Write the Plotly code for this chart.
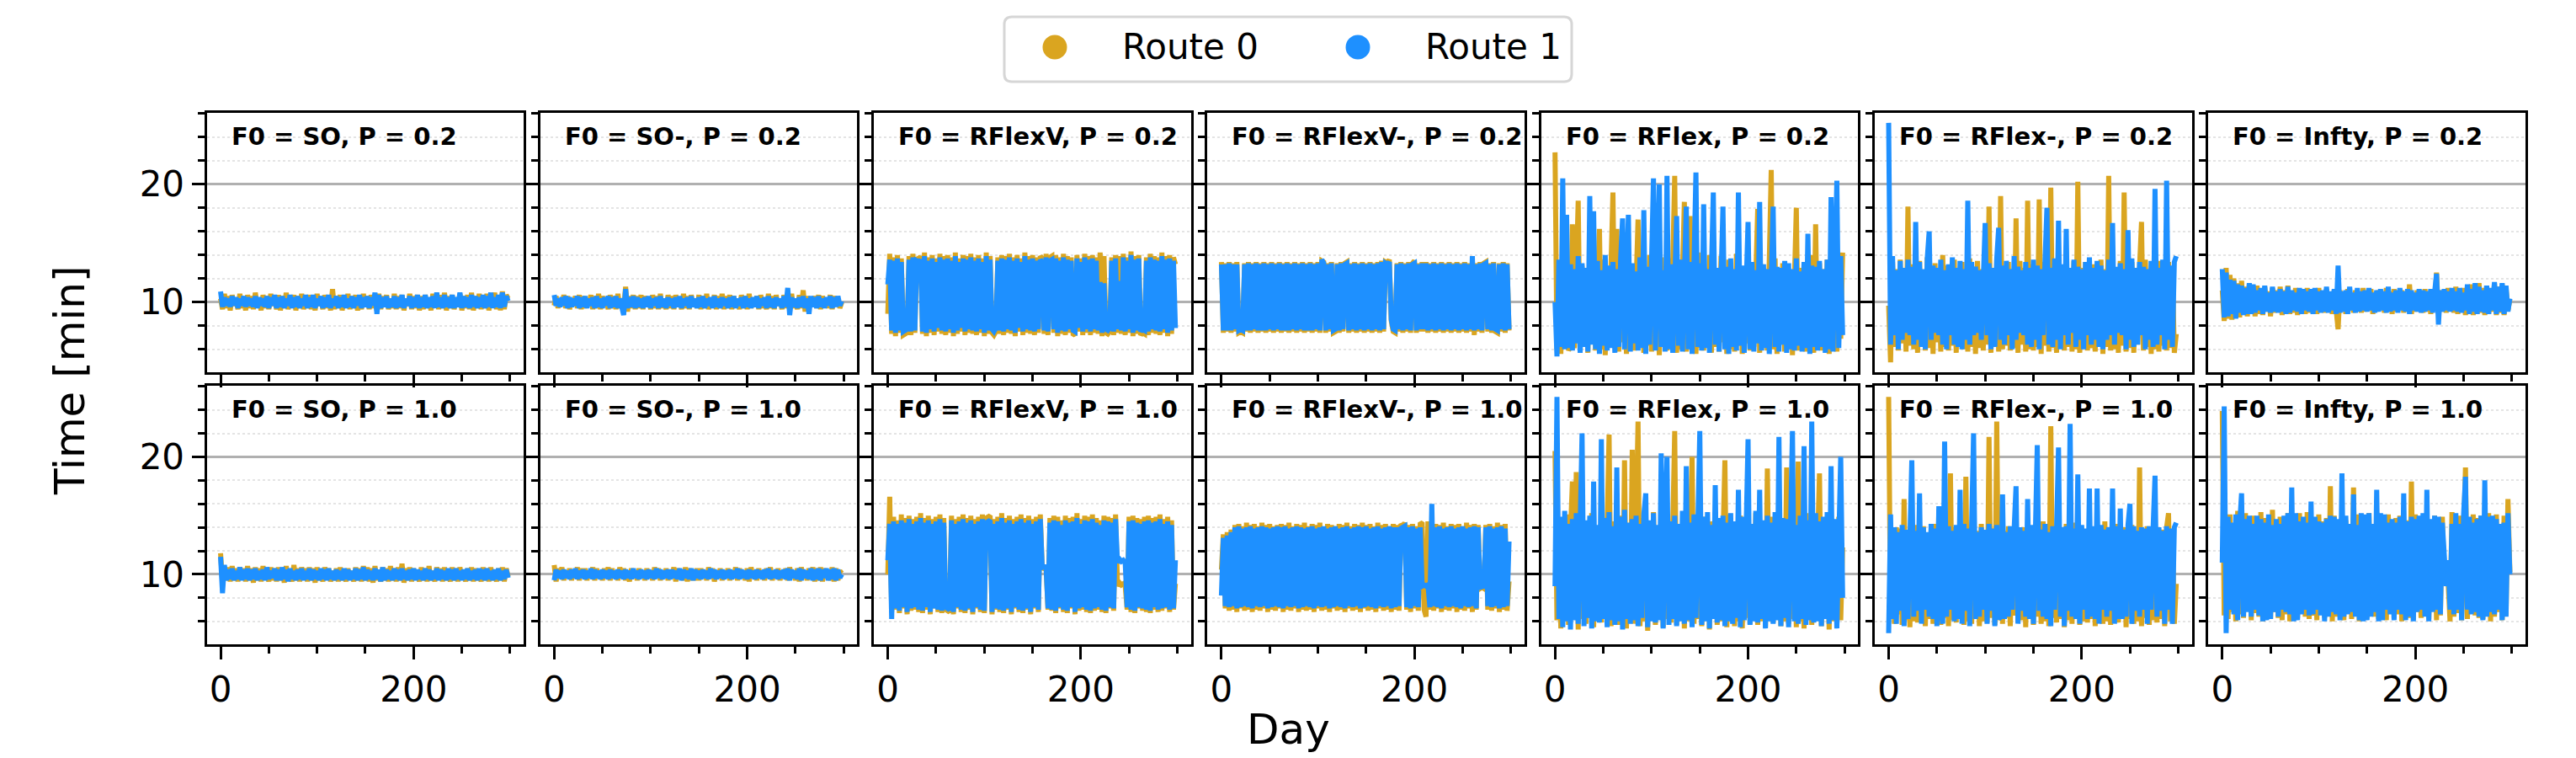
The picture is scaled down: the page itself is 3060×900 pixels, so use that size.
import plotly.graph_objects as go

# ---------------- data ----------------
DAYS = list(range(0, 300, 2))
ROUTE_NAMES = ["Route 0", "Route 1"]
ROUTE_COLORS = ["#DAA520", "#1E90FF"]
F0_LABELS = ["SO", "SO-", "RFlexV", "RFlexV-", "RFlex", "RFlex-", "Infty"]
P_LABELS = ["0.2", "1.0"]
X_TICKS = [0, 200]
Y_TICKS = [10, 20]

# ---- P = 0.2 ----
so_p02_r0 = [10.3, 9.4, 10.7, 9.5, 10.5, 9.3, 10.6, 9.7, 10.3, 9.4, 10.7, 9.5, 10.2, 9.3, 10.6,
             9.5, 10.5, 9.4, 10.8, 9.7, 10.3, 9.3, 10.6, 9.5, 10.5, 9.4, 10.7, 9.7, 10.3, 9.4,
             10.6, 9.3, 10.5, 9.5, 10.8, 9.4, 10.3, 9.7, 10.6, 9.3, 10.5, 9.5, 10.7, 9.4, 10.3,
             9.5, 10.6, 9.4, 10.5, 9.3, 10.7, 9.7, 10.3, 9.4, 10.6, 9.5, 10.5, 9.3, 11.1, 9.4,
             10.5, 9.5, 10.6, 9.3, 10.3, 9.7, 10.7, 9.4, 10.5, 9.5, 10.6, 9.3, 10.3, 9.4, 10.7,
             9.7, 10.5, 9.4, 10.6, 9.5, 10.3, 9.3, 10.7, 9.4, 10.5, 9.7, 10.6, 9.4, 10.3, 9.5,
             10.7, 9.4, 10.5, 9.5, 10.6, 9.3, 10.3, 9.7, 10.7, 9.4, 10.5, 9.5, 10.6, 9.3, 10.5,
             9.4, 10.6, 9.5, 10.3, 9.3, 10.7, 9.7, 10.5, 9.4, 10.6, 9.5, 10.8, 9.3, 10.5, 9.5,
             10.6, 9.4, 10.3, 9.7, 10.7, 9.3, 10.5, 9.5, 10.6, 9.4, 10.8, 9.3, 10.5, 9.5, 10.7,
             9.4, 10.6, 9.5, 10.7, 9.3, 10.5, 9.7, 10.8, 9.4, 10.6, 9.3, 10.9, 9.4, 10.6, 10.3]
so_p02_r1 = [10.9, 9.6, 10.4, 9.7, 10.3, 9.6, 10.5, 9.7, 10.4, 9.5, 10.3, 9.7, 10.5, 9.6, 10.4,
             9.7, 10.3, 9.6, 10.5, 9.5, 10.4, 9.7, 10.3, 9.6, 10.5, 9.5, 10.4, 9.7, 10.6, 9.5,
             10.4, 9.6, 10.5, 9.5, 10.3, 9.7, 10.6, 9.5, 10.4, 9.6, 10.5, 9.5, 10.3, 9.7, 10.6,
             9.5, 10.4, 9.6, 10.6, 9.5, 10.3, 9.7, 10.5, 9.5, 10.4, 9.6, 10.6, 9.5, 10.3, 9.7,
             10.5, 9.5, 10.4, 9.6, 10.6, 9.5, 10.3, 9.6, 10.5, 9.5, 10.4, 9.7, 10.6, 9.5, 10.4,
             9.6, 10.5, 9.5, 10.4, 9.7, 10.8, 9.0, 10.6, 9.5, 10.4, 9.6, 10.5, 9.5, 10.3, 9.6,
             10.5, 9.5, 10.4, 9.6, 10.6, 9.5, 10.3, 9.7, 10.5, 9.5, 10.4, 9.6, 10.6, 9.5, 10.4,
             9.6, 10.6, 9.5, 10.4, 9.6, 10.5, 9.5, 10.8, 9.6, 10.4, 9.5, 10.6, 9.6, 10.4, 9.5,
             10.6, 9.5, 10.4, 9.6, 10.8, 9.5, 10.5, 9.6, 10.4, 9.5, 10.6, 9.6, 10.5, 9.5, 10.4,
             9.6, 10.6, 9.5, 10.5, 9.6, 10.8, 9.5, 10.4, 9.6, 10.6, 9.5, 10.8, 9.6, 10.5, 10.1]
som_p02_r0 = [9.7, 10.5, 9.5, 10.3, 9.7, 10.6, 9.5, 10.5, 9.4, 10.3, 9.7, 10.5, 9.5, 10.6, 9.4,
              10.5, 9.5, 10.3, 9.7, 10.6, 9.4, 10.5, 9.5, 10.7, 9.4, 10.5, 9.7, 10.3, 9.4, 10.6,
              9.5, 10.5, 9.4, 10.7, 9.5, 10.3, 9.4, 11.3, 9.2, 10.5, 9.5, 10.6, 9.4, 10.5, 9.5,
              10.6, 9.4, 10.5, 9.7, 10.3, 9.4, 10.6, 9.5, 10.5, 9.4, 10.7, 9.5, 10.3, 9.4, 10.6,
              9.5, 10.5, 9.4, 10.6, 9.7, 10.3, 9.4, 10.7, 9.5, 10.5, 9.4, 10.6, 9.7, 10.3, 9.5,
              10.6, 9.4, 10.5, 9.5, 10.7, 9.4, 10.3, 9.7, 10.6, 9.4, 10.5, 9.5, 10.7, 9.4, 10.5,
              9.5, 10.6, 9.4, 10.5, 9.7, 10.3, 9.4, 10.6, 9.5, 10.5, 9.4, 10.7, 9.5, 10.3, 9.7,
              10.5, 9.4, 10.6, 9.5, 10.3, 9.4, 10.7, 9.5, 10.5, 9.4, 10.6, 9.7, 10.3, 9.4, 10.6,
              9.5, 10.5, 9.4, 10.7, 9.5, 10.3, 9.4, 10.6, 9.5, 11.0, 9.2, 10.5, 9.5, 10.3, 9.7,
              10.5, 9.5, 10.6, 9.4, 10.5, 9.7, 10.3, 9.5, 10.6, 9.4, 10.5, 9.7, 10.3, 9.5, 10.0]
som_p02_r1 = [10.6, 9.7, 10.3, 9.6, 10.4, 9.7, 10.5, 9.5, 10.4, 9.6, 10.3, 9.7, 10.5, 9.5, 10.4,
              9.6, 10.5, 9.5, 10.3, 9.7, 10.4, 9.5, 10.5, 9.6, 10.3, 9.5, 10.4, 9.7, 10.5, 9.5,
              10.4, 9.6, 10.5, 9.5, 10.3, 9.6, 8.9, 11.1, 9.5, 10.4, 9.6, 10.5, 9.5, 10.4, 9.6,
              10.3, 9.5, 10.4, 9.6, 10.5, 9.5, 10.3, 9.7, 10.4, 9.5, 10.5, 9.6, 10.3, 9.5, 10.4,
              9.7, 10.3, 9.5, 10.4, 9.6, 10.5, 9.5, 10.3, 9.7, 10.4, 9.5, 10.5, 9.6, 10.3, 9.5,
              10.4, 9.6, 10.5, 9.5, 10.3, 9.7, 10.4, 9.5, 10.5, 9.6, 10.3, 9.5, 10.4, 9.7, 10.3,
              9.5, 10.4, 9.6, 10.5, 9.5, 10.3, 9.7, 10.4, 9.5, 10.5, 9.6, 10.3, 9.5, 10.4, 9.6,
              10.5, 9.5, 10.3, 9.7, 10.4, 9.5, 10.5, 9.6, 10.3, 9.5, 10.4, 9.7, 10.3, 9.5, 10.5,
              9.6, 11.2, 8.9, 10.4, 9.6, 10.3, 9.5, 10.4, 9.6, 10.5, 9.5, 10.3, 9.0, 10.5, 9.6,
              10.4, 9.5, 10.5, 9.6, 10.3, 9.5, 10.4, 9.7, 10.5, 9.5, 10.4, 9.6, 10.5, 9.7, 10.1]
rflexv_p02_r0 = [9.0, 14.1, 7.3, 13.8, 7.1, 14.0, 7.4, 13.7, 7.2, 7.3, 7.4, 13.9, 7.2, 14.1, 7.4,
                 13.8, 13.6, 13.9, 7.3, 14.2, 7.1, 13.8, 7.4, 14.0, 7.2, 13.7, 7.5, 14.1, 7.3, 13.9,
                 7.2, 14.0, 7.4, 13.8, 7.1, 14.2, 7.3, 13.7, 7.5, 14.0, 7.2, 13.9, 7.4, 14.1, 7.3,
                 13.8, 7.2, 14.0, 7.4, 13.7, 7.1, 14.2, 7.3, 13.9, 7.4, 7.2, 7.5, 13.8, 7.3, 14.0,
                 7.2, 13.9, 7.4, 14.1, 7.3, 13.8, 7.1, 14.0, 7.5, 13.7, 7.2, 14.2, 7.4, 13.9, 7.3,
                 14.0, 7.2, 13.8, 7.4, 13.9, 13.7, 7.3, 14.1, 7.2, 13.8, 13.9, 7.4, 14.0, 7.1, 13.8,
                 7.3, 14.1, 7.2, 13.9, 7.4, 13.8, 7.3, 7.2, 14.0, 7.5, 13.7, 7.2, 14.1, 7.4, 13.9,
                 7.2, 14.0, 7.4, 13.8, 7.3, 14.2, 7.1, 13.9, 7.4, 7.3, 7.5, 13.8, 7.2, 14.0, 7.4,
                 13.9, 7.3, 14.1, 7.2, 13.8, 7.4, 14.3, 7.1, 13.9, 7.3, 14.0, 7.2, 7.4, 7.3, 13.8,
                 7.2, 14.1, 7.4, 13.9, 7.3, 13.8, 7.2, 14.2, 7.4, 13.9, 7.1, 14.0, 7.3, 13.8, 13.2]
rflexv_p02_r1 = [11.5, 13.6, 7.6, 13.5, 7.4, 13.7, 7.6, 13.4, 7.5, 7.6, 7.7, 13.6, 7.5, 13.8, 7.6,
                 13.5, 13.4, 13.6, 7.5, 13.9, 7.4, 13.5, 7.7, 13.7, 7.5, 13.4, 7.8, 13.8, 7.6, 13.6,
                 7.5, 13.7, 7.7, 13.5, 7.4, 13.9, 7.6, 13.4, 7.8, 13.7, 7.5, 13.6, 7.7, 13.8, 7.6,
                 13.5, 7.5, 13.7, 7.7, 13.4, 7.4, 13.9, 7.6, 13.6, 7.7, 7.5, 7.8, 13.5, 7.6, 13.7,
                 7.5, 13.6, 7.7, 13.8, 7.6, 13.5, 7.4, 13.7, 7.8, 13.4, 7.5, 13.9, 7.7, 13.6, 7.6,
                 13.7, 7.5, 13.5, 7.7, 13.6, 13.4, 7.6, 13.8, 7.5, 13.5, 13.6, 7.7, 13.7, 7.4, 13.5,
                 7.6, 13.8, 7.5, 13.6, 7.7, 13.5, 7.6, 7.5, 13.7, 7.8, 13.4, 7.5, 13.8, 7.7, 13.6,
                 7.5, 13.7, 7.7, 13.5, 7.6, 11.7, 7.4, 11.6, 7.7, 7.6, 7.8, 13.5, 7.5, 13.7, 7.7,
                 11.8, 7.6, 13.8, 7.5, 13.5, 7.7, 14.0, 7.4, 13.6, 7.6, 13.7, 7.5, 7.7, 7.6, 13.5,
                 7.5, 13.8, 7.7, 13.6, 7.6, 13.5, 7.5, 13.9, 7.7, 13.6, 7.4, 13.7, 7.6, 13.5, 7.8]
rflexvm_p02_r0 = [13.4, 7.4, 13.3, 7.5, 13.4, 7.4, 13.3, 7.5, 13.4, 7.4, 7.5, 7.4, 13.3, 7.5, 13.4,
                  7.4, 13.3, 7.5, 13.4, 7.4, 13.3, 7.5, 13.4, 7.4, 13.3, 7.5, 13.4, 7.4, 13.3, 7.5,
                  13.4, 7.4, 13.3, 7.5, 13.4, 7.4, 13.3, 7.5, 13.4, 7.4, 13.3, 7.5, 13.4, 7.4, 13.3,
                  7.5, 13.4, 7.4, 13.3, 7.5, 13.4, 7.4, 13.5, 13.4, 7.4, 13.3, 7.5, 13.4, 7.4, 7.5,
                  13.3, 7.4, 13.4, 7.5, 13.3, 13.4, 7.4, 13.3, 7.5, 13.4, 7.4, 13.3, 7.5, 13.4, 7.4,
                  13.3, 7.5, 13.4, 7.4, 13.3, 7.5, 13.4, 7.4, 13.5, 7.5, 13.4, 13.3, 13.6, 8.4, 7.5,
                  7.4, 13.3, 7.5, 13.4, 7.4, 13.3, 7.5, 13.4, 7.4, 13.3, 13.5, 7.4, 13.3, 7.5, 13.4,
                  7.5, 13.4, 7.4, 13.3, 7.5, 13.4, 7.4, 13.3, 7.5, 13.4, 7.4, 13.3, 7.5, 13.4, 7.4,
                  13.3, 7.5, 13.4, 7.4, 13.3, 7.5, 13.4, 7.4, 13.3, 7.5, 13.4, 7.2, 13.3, 7.5, 13.4,
                  7.4, 13.3, 13.4, 7.5, 13.3, 7.4, 13.4, 7.5, 7.4, 13.3, 7.5, 13.4, 7.4, 13.3, 7.6]
rflexvm_p02_r1 = [13.2, 7.6, 13.2, 7.6, 13.3, 7.6, 13.2, 7.7, 13.2, 7.6, 7.7, 7.6, 13.2, 7.6, 13.3,
                  7.6, 13.2, 7.7, 13.3, 7.6, 13.2, 7.6, 13.3, 7.6, 13.2, 7.7, 13.3, 7.6, 13.2, 7.7,
                  13.3, 7.6, 13.2, 7.6, 13.3, 7.6, 13.2, 7.7, 13.3, 7.6, 13.2, 7.7, 13.3, 7.6, 13.2,
                  7.6, 13.3, 7.6, 13.2, 7.7, 13.3, 7.6, 13.6, 13.3, 7.6, 13.2, 7.7, 13.3, 7.6, 7.7,
                  13.2, 7.6, 13.3, 7.7, 13.2, 13.3, 7.6, 13.2, 7.7, 13.3, 7.6, 13.2, 7.7, 13.3, 7.6,
                  13.2, 7.7, 13.3, 7.6, 13.2, 7.7, 13.3, 7.6, 13.4, 7.7, 13.3, 13.2, 13.4, 8.5, 7.7,
                  7.6, 13.2, 7.7, 13.3, 7.6, 13.2, 7.7, 13.3, 7.6, 13.2, 13.3, 7.6, 13.2, 7.7, 13.3,
                  7.7, 13.3, 7.6, 13.2, 7.7, 13.3, 7.6, 13.2, 7.7, 13.3, 7.6, 13.2, 7.7, 13.3, 7.6,
                  13.2, 7.7, 13.3, 7.6, 13.2, 7.7, 13.3, 7.6, 13.2, 7.7, 13.9, 7.6, 13.2, 7.7, 13.3,
                  7.6, 13.2, 13.3, 7.7, 13.2, 7.6, 13.3, 7.7, 7.6, 13.2, 7.7, 13.3, 7.6, 13.2, 7.7]
rflex_p02_r0 = [22.7, 6.0, 12.8, 5.6, 13.9, 6.4, 12.6, 5.9, 6.2, 16.6, 6.1, 13.4, 18.6, 5.8, 13.1,
                6.3, 12.9, 5.7, 14.0, 6.5, 13.3, 5.9, 12.4, 16.2, 6.0, 13.6, 5.5, 12.8, 6.7, 14.1,
                19.3, 6.1, 16.2, 5.8, 13.2, 6.6, 12.7, 5.6, 14.3, 6.2, 13.0, 5.9, 12.5, 17.0, 6.4,
                13.5, 5.7, 12.9, 6.3, 14.0, 5.8, 13.4, 6.0, 12.6, 5.5, 13.8, 6.4, 12.8, 5.9, 13.7,
                6.2, 13.1, 20.7, 5.7, 13.6, 6.0, 12.8, 18.5, 5.8, 13.3, 17.3, 6.5, 12.7, 5.6, 14.2,
                6.1, 13.5, 5.9, 12.9, 6.4, 14.0, 5.7, 13.2, 6.2, 12.6, 5.8, 13.9, 6.6, 12.8, 5.6,
                13.6, 6.0, 12.7, 5.8, 14.1, 6.3, 13.0, 5.6, 12.9, 6.5, 13.4, 5.9, 12.6, 6.2, 13.8,
                17.9, 5.7, 13.2, 6.1, 12.8, 5.9, 13.5, 21.2, 6.0, 13.7, 5.6, 12.9, 6.4, 13.3, 5.8,
                13.0, 6.2, 12.7, 5.5, 13.6, 18.0, 5.9, 12.9, 6.3, 13.4, 5.8, 12.6, 6.7, 14.0, 5.7,
                16.6, 6.1, 13.3, 5.9, 12.8, 6.4, 13.6, 5.6, 12.9, 6.0, 13.5, 5.8, 13.1, 6.9, 14.2]
rflex_p02_r1 = [10.0, 5.4, 13.6, 6.2, 20.5, 6.0, 17.4, 6.1, 13.2, 5.9, 12.8, 6.5, 13.9, 5.7, 13.3,
                6.2, 12.9, 5.8, 19.0, 6.4, 17.7, 6.0, 13.5, 5.6, 12.7, 6.3, 14.0, 5.9, 13.1, 6.1,
                13.4, 5.7, 12.8, 6.2, 13.7, 17.1, 6.0, 12.9, 17.4, 5.8, 13.3, 6.5, 12.6, 5.9, 13.8,
                6.1, 17.8, 5.6, 13.0, 6.4, 12.8, 20.5, 5.9, 13.5, 20.0, 6.2, 12.7, 5.8, 20.7, 6.0,
                13.2, 5.7, 12.9, 17.3, 6.3, 13.6, 5.8, 12.8, 18.1, 6.0, 13.4, 5.6, 12.7, 21.0, 6.2,
                13.3, 5.9, 18.3, 6.1, 12.8, 5.7, 13.6, 19.3, 6.4, 12.9, 5.8, 13.5, 18.1, 6.0, 13.0,
                5.6, 13.7, 6.2, 12.8, 5.9, 19.3, 6.3, 13.1, 5.7, 12.9, 16.8, 6.0, 13.4, 5.8, 12.7,
                6.5, 18.5, 5.9, 13.2, 6.1, 12.8, 5.6, 13.6, 18.1, 6.2, 13.0, 5.8, 12.9, 6.4, 13.5,
                5.7, 13.3, 6.0, 12.8, 5.9, 13.7, 6.3, 12.6, 5.8, 13.4, 6.1, 15.8, 5.6, 13.1, 6.2,
                13.0, 5.9, 13.5, 6.2, 12.8, 5.7, 13.6, 6.0, 18.9, 5.8, 13.2, 20.3, 6.1, 13.9, 7.2]
rflexm_p02_r0 = [9.7, 4.9, 13.4, 6.2, 12.8, 5.9, 13.6, 6.5, 12.7, 5.8, 18.1, 6.3, 13.2, 6.0, 12.9,
                 5.7, 13.5, 6.4, 12.6, 5.9, 13.8, 6.1, 12.9, 5.6, 13.3, 6.6, 12.7, 5.8, 14.0, 6.2,
                 13.1, 5.9, 12.8, 6.3, 13.6, 5.7, 12.9, 6.5, 13.4, 6.0, 12.6, 5.8, 13.7, 6.2, 13.0,
                 5.6, 13.5, 6.1, 12.8, 5.9, 13.3, 6.4, 18.1, 5.7, 12.9, 6.2, 13.6, 5.8, 19.0, 6.0,
                 12.7, 6.3, 13.4, 5.9, 12.8, 6.1, 17.1, 5.7, 13.5, 6.4, 12.9, 5.8, 18.6, 6.0, 13.2,
                 5.9, 12.8, 6.2, 18.7, 5.6, 13.4, 6.3, 12.9, 5.8, 19.7, 6.1, 13.1, 5.7, 13.6, 6.4,
                 12.8, 5.9, 13.3, 6.2, 12.7, 5.8, 13.5, 6.0, 20.2, 5.7, 12.9, 6.5, 13.4, 5.9, 12.6,
                 6.1, 13.2, 5.8, 12.9, 6.4, 13.6, 5.6, 12.8, 6.2, 20.7, 5.9, 13.3, 6.0, 12.7, 5.7,
                 13.5, 6.3, 19.3, 5.8, 12.9, 6.1, 13.4, 5.7, 12.8, 6.4, 13.0, 16.8, 5.9, 13.6, 6.2,
                 12.8, 5.6, 13.3, 6.0, 12.9, 5.8, 13.5, 6.3, 12.7, 5.9, 13.4, 6.1, 13.0, 5.7, 7.3]
rflexm_p02_r1 = [25.2, 6.4, 13.9, 7.2, 12.7, 6.0, 13.5, 6.8, 12.9, 7.4, 13.6, 7.2, 13.0, 6.4, 16.8,
                 6.8, 13.4, 6.2, 12.8, 6.0, 13.7, 16.0, 6.8, 13.1, 7.4, 12.9, 7.2, 13.6, 6.4, 12.7,
                 6.0, 13.2, 7.2, 13.8, 6.4, 12.9, 6.2, 13.5, 6.0, 12.8, 6.8, 18.6, 6.4, 13.4, 7.2,
                 13.0, 7.4, 12.7, 6.8, 13.6, 16.7, 7.2, 13.3, 6.0, 12.9, 6.2, 13.7, 16.3, 6.8, 13.1,
                 6.4, 13.5, 7.2, 12.8, 6.0, 13.9, 6.8, 13.0, 7.4, 12.7, 7.2, 13.4, 6.4, 12.9, 6.2,
                 13.6, 6.8, 13.1, 6.0, 12.8, 7.2, 13.5, 18.0, 6.4, 12.9, 6.2, 13.7, 6.8, 16.9, 6.0,
                 13.2, 7.2, 16.2, 6.4, 12.9, 7.4, 13.6, 6.2, 13.0, 6.8, 12.8, 6.0, 13.4, 7.2, 13.8,
                 6.4, 12.9, 6.8, 13.5, 6.2, 13.1, 6.0, 12.7, 6.8, 13.6, 7.2, 16.7, 6.4, 13.0, 7.4,
                 13.3, 7.2, 12.8, 6.0, 16.1, 6.8, 13.7, 6.2, 12.9, 6.4, 13.4, 7.2, 13.0, 6.0, 12.8,
                 6.8, 13.5, 6.2, 19.6, 6.4, 12.9, 7.2, 13.6, 6.0, 20.3, 6.8, 13.1, 6.2, 13.4, 13.9]
infty_p02_r0 = [11.0, 8.4, 12.9, 8.6, 12.3, 8.5, 12.0, 8.9, 11.6, 8.7, 11.8, 9.0, 11.3, 8.8, 11.5,
                9.1, 11.2, 8.8, 11.4, 9.0, 11.1, 8.9, 11.3, 9.2, 10.9, 8.8, 11.2, 9.1, 11.0, 9.3,
                11.3, 8.9, 11.0, 9.2, 11.4, 9.0, 10.8, 9.1, 11.2, 8.9, 11.0, 9.3, 10.9, 9.0, 11.2,
                9.1, 11.0, 9.3, 10.8, 9.0, 11.2, 9.2, 10.9, 9.1, 11.1, 9.3, 10.8, 9.0, 11.0, 9.2,
                7.7, 11.0, 9.2, 10.8, 9.0, 11.1, 9.3, 10.7, 9.1, 11.0, 9.3, 10.8, 9.1, 11.2, 9.2,
                10.9, 9.3, 11.1, 9.0, 10.8, 9.2, 11.0, 9.4, 10.7, 9.1, 11.2, 9.3, 10.9, 9.0, 11.1,
                9.2, 10.8, 9.4, 11.0, 9.1, 10.9, 9.3, 11.5, 9.0, 10.8, 9.2, 11.0, 9.4, 10.7, 9.1,
                11.1, 9.2, 10.9, 9.0, 11.0, 9.3, 12.5, 9.0, 11.0, 9.2, 10.9, 9.1, 11.2, 9.3, 10.8,
                9.1, 11.3, 9.0, 10.8, 9.3, 11.2, 8.9, 11.0, 9.2, 11.5, 8.9, 11.3, 9.0, 11.6, 9.1,
                11.2, 8.9, 11.4, 9.0, 11.1, 9.2, 11.6, 8.9, 11.3, 9.1, 11.5, 8.9, 11.2, 9.3, 10.2]
infty_p02_r1 = [12.8, 8.7, 12.5, 8.8, 11.9, 9.0, 11.8, 8.6, 11.5, 9.1, 11.4, 8.9, 11.2, 9.0, 11.6,
                9.0, 11.5, 9.1, 11.0, 9.3, 11.2, 9.0, 11.4, 9.2, 10.8, 9.1, 11.3, 9.2, 10.9, 9.1,
                11.1, 9.2, 10.9, 9.0, 11.3, 9.1, 11.0, 9.3, 10.8, 9.2, 11.2, 9.0, 11.1, 9.3, 10.9,
                9.2, 11.1, 9.0, 11.2, 9.3, 10.9, 9.1, 11.0, 9.2, 11.3, 9.1, 10.9, 9.3, 11.1, 9.0,
                13.1, 9.1, 10.9, 9.2, 11.0, 9.0, 11.3, 9.3, 10.8, 9.1, 11.2, 9.2, 10.9, 9.3, 11.0,
                9.2, 11.2, 9.3, 10.8, 9.1, 11.0, 9.2, 11.1, 9.3, 10.9, 9.1, 11.3, 9.2, 10.8, 9.3,
                11.0, 9.1, 11.2, 9.3, 10.9, 9.2, 11.1, 9.0, 11.0, 9.3, 10.8, 9.2, 11.1, 9.1, 11.0,
                9.2, 10.9, 9.3, 11.1, 9.1, 10.8, 12.4, 8.1, 11.0, 9.2, 11.1, 9.3, 10.9, 9.2, 11.2,
                9.3, 10.9, 9.2, 11.2, 9.1, 10.8, 9.3, 11.5, 9.0, 11.1, 9.2, 11.6, 9.0, 11.3, 9.2,
                11.0, 9.1, 11.4, 9.0, 11.2, 9.3, 11.7, 9.0, 11.3, 9.2, 11.6, 9.0, 11.4, 9.2, 10.3]

# ---- P = 1.0 ----
so_p10_r0 = [11.8, 9.3, 10.5, 9.5, 10.6, 9.4, 10.7, 9.5, 10.5, 9.4, 10.6, 9.7, 10.5, 9.4, 10.7,
             9.5, 10.5, 9.3, 10.6, 9.5, 10.5, 9.4, 10.7, 9.7, 10.3, 9.4, 10.6, 9.5, 10.5, 9.4,
             10.6, 9.5, 10.5, 9.3, 10.7, 9.5, 10.3, 9.4, 10.8, 9.5, 10.5, 9.4, 10.6, 9.7, 10.5,
             9.4, 10.6, 9.5, 10.5, 9.3, 10.6, 9.5, 10.3, 9.4, 10.6, 9.7, 10.5, 9.4, 10.3, 9.5,
             10.5, 9.4, 10.6, 9.5, 10.3, 9.4, 10.5, 9.7, 10.3, 9.4, 10.6, 9.5, 10.5, 9.4, 10.7,
             9.5, 10.6, 9.4, 10.5, 9.3, 10.7, 9.5, 10.3, 9.4, 10.6, 9.5, 10.5, 9.4, 10.7, 9.5,
             10.5, 9.4, 10.6, 9.5, 10.9, 9.3, 10.5, 9.5, 10.6, 9.4, 10.5, 9.7, 10.3, 9.4, 10.6,
             9.5, 10.5, 9.4, 10.7, 9.5, 10.3, 9.4, 10.6, 9.7, 10.5, 9.4, 10.6, 9.5, 10.3, 9.4,
             10.6, 9.5, 10.5, 9.4, 10.6, 9.7, 10.3, 9.4, 10.5, 9.5, 10.6, 9.4, 10.5, 9.5, 10.3,
             9.4, 10.6, 9.5, 10.5, 9.4, 10.6, 9.5, 10.3, 9.4, 10.5, 9.5, 10.6, 9.4, 10.5, 9.8]
so_p10_r1 = [11.5, 8.4, 10.8, 9.5, 10.4, 9.6, 10.5, 9.5, 10.3, 9.6, 10.6, 9.5, 10.4, 9.6, 10.5,
             9.5, 10.4, 9.6, 10.5, 9.5, 10.3, 9.6, 10.4, 9.5, 10.6, 9.6, 10.3, 9.7, 10.5, 9.5,
             10.4, 9.5, 10.6, 9.6, 10.4, 9.4, 10.5, 9.6, 10.3, 9.5, 10.4, 9.6, 10.5, 9.5, 10.3,
             9.6, 10.5, 9.5, 10.4, 9.6, 10.3, 9.5, 10.5, 9.6, 10.4, 9.5, 10.5, 9.6, 10.3, 9.5,
             10.4, 9.6, 10.3, 9.5, 10.5, 9.6, 10.4, 9.5, 10.3, 9.6, 10.5, 9.5, 10.4, 9.6, 10.6,
             9.5, 10.4, 9.6, 10.3, 9.5, 10.5, 9.6, 10.4, 9.4, 10.6, 9.5, 10.4, 9.6, 10.3, 9.5,
             10.5, 9.6, 10.4, 9.5, 10.5, 9.6, 10.3, 9.5, 10.4, 9.6, 10.5, 9.5, 10.4, 9.6, 10.3,
             9.5, 10.5, 9.6, 10.4, 9.5, 10.3, 9.6, 10.5, 9.5, 10.4, 9.6, 10.3, 9.5, 10.5, 9.6,
             10.4, 9.5, 10.5, 9.6, 10.3, 9.5, 10.4, 9.6, 10.5, 9.5, 10.3, 9.6, 10.4, 9.5, 10.5,
             9.6, 10.4, 9.5, 10.5, 9.6, 10.3, 9.5, 10.4, 9.6, 10.5, 9.5, 10.3, 9.6, 10.4, 9.7]
som_p10_r0 = [10.8, 9.4, 10.5, 9.7, 10.6, 9.5, 10.3, 9.7, 10.5, 9.5, 10.3, 9.7, 10.6, 9.5, 10.5,
              9.7, 10.5, 9.5, 10.3, 9.7, 10.6, 9.5, 10.5, 9.7, 10.3, 9.5, 10.5, 9.7, 10.6, 9.5,
              10.5, 9.7, 10.3, 9.5, 10.6, 9.7, 10.5, 9.5, 10.3, 9.4, 10.5, 9.7, 10.3, 9.5, 10.5,
              9.7, 10.3, 9.5, 10.5, 9.7, 10.3, 9.5, 10.6, 9.7, 10.5, 9.5, 10.3, 9.7, 10.5, 9.5,
              10.3, 9.7, 10.6, 9.4, 10.5, 9.7, 10.3, 9.5, 10.6, 9.4, 10.5, 9.5, 10.3, 9.5, 10.5,
              9.5, 10.5, 9.7, 10.3, 9.5, 10.6, 9.7, 10.5, 9.4, 10.3, 9.7, 10.5, 9.5, 10.3, 9.7,
              10.5, 9.5, 10.3, 9.7, 10.6, 9.5, 10.5, 9.7, 10.3, 9.5, 10.5, 9.4, 10.6, 9.7, 10.3,
              9.5, 10.5, 9.7, 10.3, 9.5, 10.5, 9.7, 10.6, 9.5, 10.3, 9.7, 10.5, 9.5, 10.3, 9.7,
              10.5, 9.5, 10.6, 9.7, 10.3, 9.5, 10.5, 9.4, 10.6, 9.7, 10.3, 9.5, 10.5, 9.7, 10.6,
              9.4, 10.5, 9.5, 10.6, 9.4, 10.5, 9.7, 10.3, 9.5, 10.6, 9.4, 10.5, 9.5, 10.3, 10.1]
som_p10_r1 = [9.5, 10.4, 9.7, 10.3, 9.6, 10.4, 9.7, 10.3, 9.6, 10.4, 9.7, 10.5, 9.6, 10.3, 9.7,
              10.4, 9.6, 10.3, 9.7, 10.5, 9.6, 10.4, 9.7, 10.3, 9.6, 10.4, 9.7, 10.3, 9.6, 10.4,
              9.7, 10.3, 9.6, 10.4, 9.7, 10.3, 9.6, 10.4, 9.7, 10.3, 9.6, 10.5, 9.7, 10.3, 9.6,
              10.4, 9.7, 10.3, 9.6, 10.4, 9.7, 10.3, 9.6, 10.5, 9.7, 10.4, 9.6, 10.3, 9.7, 10.4,
              9.6, 10.4, 9.7, 10.3, 9.6, 10.5, 9.5, 10.4, 9.7, 10.3, 9.6, 10.5, 9.5, 10.4, 9.7,
              10.3, 9.6, 10.4, 9.7, 10.3, 9.6, 10.5, 9.7, 10.4, 9.6, 10.3, 9.7, 10.4, 9.6, 10.3,
              9.7, 10.4, 9.6, 10.3, 9.7, 10.5, 9.6, 10.4, 9.7, 10.3, 9.6, 10.4, 9.7, 10.3, 9.6,
              10.4, 9.7, 10.3, 9.6, 10.4, 9.7, 10.5, 9.6, 10.3, 9.7, 10.4, 9.6, 10.3, 9.7, 10.4,
              9.6, 10.5, 9.5, 10.4, 9.7, 10.3, 9.6, 10.5, 9.5, 10.4, 9.7, 10.3, 9.6, 10.5, 9.5,
              10.4, 9.6, 10.5, 9.5, 10.4, 9.7, 10.5, 9.5, 10.4, 9.6, 10.5, 9.5, 10.4, 9.7, 10.0]
rflexv_p10_r0 = [10.0, 16.6, 6.8, 14.9, 7.0, 14.6, 6.7, 15.1, 7.1, 14.8, 6.6, 15.0, 6.9, 14.7, 7.0,
                 14.9, 6.8, 15.2, 6.7, 14.8, 7.0, 15.0, 6.6, 14.7, 7.1, 14.9, 6.8, 15.1, 6.7, 14.8,
                 7.0, 6.9, 6.8, 15.0, 6.6, 14.7, 7.1, 14.9, 6.8, 15.1, 6.7, 14.8, 7.0, 15.0, 6.6,
                 14.7, 7.1, 14.9, 6.8, 15.1, 6.7, 14.8, 14.9, 15.0, 6.6, 14.7, 7.0, 14.9, 6.8, 15.2,
                 6.7, 14.8, 7.0, 15.0, 6.6, 14.7, 7.1, 14.9, 6.8, 15.1, 6.7, 14.8, 7.0, 15.0, 6.6,
                 14.7, 7.1, 14.9, 6.8, 15.1, 10.4, 10.6, 10.5, 7.0, 14.8, 6.9, 15.0, 6.7, 14.9, 7.1,
                 14.6, 6.8, 15.0, 6.7, 14.8, 7.1, 14.9, 6.6, 15.2, 6.9, 14.7, 7.0, 15.0, 6.8, 14.9,
                 6.7, 15.1, 6.9, 14.8, 7.0, 14.6, 6.8, 15.0, 6.7, 14.9, 7.1, 14.8, 6.9, 15.1, 9.0,
                 9.3, 9.1, 9.2, 9.0, 7.0, 14.9, 6.8, 15.0, 6.7, 14.8, 7.1, 14.7, 6.9, 14.9, 6.8,
                 15.0, 6.7, 14.8, 7.0, 14.9, 6.8, 15.1, 6.9, 14.7, 7.1, 14.9, 6.8, 14.6, 7.0, 9.2]
rflexv_p10_r1 = [11.2, 14.3, 6.2, 14.5, 7.1, 14.3, 6.9, 14.6, 7.2, 14.4, 6.8, 14.7, 7.1, 14.3, 7.2,
                 14.5, 7.0, 14.8, 6.9, 14.4, 7.2, 14.6, 6.8, 14.3, 7.1, 14.5, 7.0, 14.7, 6.9, 14.4,
                 7.2, 7.1, 7.0, 14.6, 6.8, 14.3, 7.2, 14.5, 7.0, 14.7, 6.9, 14.4, 7.1, 14.6, 6.8,
                 14.3, 7.2, 14.5, 7.0, 14.7, 6.9, 14.4, 14.5, 14.6, 6.8, 14.3, 7.1, 14.5, 7.0, 14.8,
                 6.9, 14.4, 7.1, 14.6, 6.8, 14.3, 7.2, 14.5, 7.0, 14.7, 6.9, 14.4, 7.1, 14.6, 6.8,
                 14.3, 7.2, 14.5, 7.0, 14.7, 10.6, 10.7, 10.6, 7.1, 14.4, 7.0, 14.6, 6.9, 14.5, 7.2,
                 14.2, 7.0, 14.6, 6.9, 14.4, 7.2, 14.5, 6.8, 14.8, 7.1, 14.3, 7.2, 14.6, 7.0, 14.5,
                 6.9, 14.7, 7.1, 14.4, 7.2, 14.2, 7.0, 14.6, 6.9, 14.5, 7.2, 14.4, 7.1, 14.7, 11.0,
                 11.3, 11.1, 11.2, 11.0, 7.2, 14.5, 7.0, 14.6, 6.9, 14.4, 7.2, 14.3, 7.1, 14.5, 7.0,
                 14.6, 6.9, 14.4, 7.2, 14.5, 7.0, 14.7, 7.1, 14.3, 7.2, 14.5, 7.0, 14.2, 7.1, 11.2]
rflexvm_p10_r0 = [10.4, 13.4, 7.1, 13.6, 6.9, 13.8, 7.0, 14.2, 6.8, 14.3, 7.1, 14.1, 6.9, 14.4, 7.0,
                  14.2, 6.8, 14.3, 7.0, 14.1, 6.9, 14.4, 7.1, 14.2, 6.8, 14.3, 7.0, 14.1, 6.9, 14.2,
                  7.1, 14.3, 6.8, 14.2, 7.0, 14.4, 6.9, 14.1, 7.1, 14.3, 6.8, 14.2, 7.0, 14.4, 6.9,
                  14.1, 7.0, 14.3, 6.8, 14.2, 7.1, 14.4, 6.9, 14.0, 7.0, 14.3, 6.8, 14.2, 7.1, 14.1,
                  6.9, 14.3, 7.0, 14.2, 6.8, 14.4, 7.1, 14.1, 6.9, 14.3, 7.0, 14.2, 6.8, 14.4, 7.1,
                  14.2, 6.9, 14.3, 7.0, 14.1, 6.8, 14.4, 7.1, 14.2, 6.9, 14.3, 7.0, 14.1, 6.8, 14.3,
                  7.0, 14.2, 6.9, 14.3, 14.1, 14.4, 7.0, 14.2, 6.8, 14.3, 7.1, 14.1, 6.9, 14.4, 14.3,
                  7.0, 6.4, 14.5, 7.0, 14.2, 6.9, 14.3, 7.1, 14.2, 6.8, 14.4, 7.0, 14.1, 6.9, 14.3,
                  7.1, 14.2, 6.8, 14.3, 7.0, 14.1, 6.9, 14.4, 7.1, 14.2, 6.8, 14.3, 7.0, 14.2, 8.8,
                  8.9, 8.8, 14.2, 7.0, 14.3, 6.9, 14.1, 7.1, 14.4, 6.8, 14.2, 7.0, 14.3, 6.9, 9.4]
rflexvm_p10_r1 = [8.2, 13.1, 7.3, 13.3, 7.2, 13.6, 7.3, 14.0, 7.1, 14.1, 7.2, 13.9, 7.3, 14.0, 7.2,
                  14.1, 7.1, 13.9, 7.3, 14.0, 7.2, 14.1, 7.3, 14.0, 7.1, 13.9, 7.2, 14.0, 7.3, 14.1,
                  7.2, 14.0, 7.1, 14.1, 7.3, 13.9, 7.2, 14.0, 7.3, 14.1, 7.1, 14.0, 7.2, 13.9, 7.3,
                  14.0, 7.2, 14.1, 7.1, 13.9, 7.3, 14.0, 7.2, 14.1, 7.3, 13.9, 7.1, 14.0, 7.2, 14.1,
                  7.3, 13.9, 7.2, 14.0, 7.1, 14.1, 7.3, 13.9, 7.2, 14.0, 7.3, 14.1, 7.1, 14.0, 7.2,
                  14.1, 7.3, 13.9, 7.2, 14.0, 7.1, 14.1, 7.3, 13.9, 7.2, 14.0, 7.3, 14.1, 7.1, 14.0,
                  7.2, 14.0, 7.3, 13.9, 14.0, 14.1, 7.2, 14.0, 7.1, 14.1, 7.3, 13.9, 7.2, 14.0, 9.0,
                  9.1, 9.0, 9.1, 7.2, 16.0, 7.3, 14.0, 7.2, 14.1, 7.1, 13.9, 7.3, 14.0, 7.2, 14.1,
                  7.3, 13.9, 7.2, 14.0, 7.1, 14.1, 7.3, 13.9, 7.2, 14.0, 7.3, 14.1, 7.1, 14.0, 8.9,
                  8.9, 9.0, 14.0, 7.3, 14.1, 7.2, 13.9, 7.3, 14.0, 7.1, 14.1, 7.2, 13.9, 7.3, 12.8]
rflex_p10_r0 = [20.5, 6.1, 13.8, 5.4, 14.6, 6.0, 15.1, 5.7, 13.5, 17.9, 6.4, 18.7, 5.3, 15.0, 6.2,
                14.2, 5.8, 13.6, 6.3, 15.2, 5.5, 14.0, 6.1, 13.4, 5.9, 14.8, 6.4, 13.7, 21.9, 5.6,
                14.5, 6.2, 13.9, 5.7, 15.0, 6.0, 19.7, 5.4, 14.3, 6.3, 20.6, 5.8, 13.8, 23.0, 5.6,
                14.8, 6.0, 13.9, 5.2, 14.5, 6.1, 15.3, 5.7, 13.6, 6.4, 14.9, 5.5, 14.2, 6.2, 13.8,
                5.9, 15.2, 22.2, 5.7, 14.0, 6.3, 13.5, 5.4, 14.7, 6.0, 13.6, 20.0, 5.8, 15.0, 6.2,
                14.3, 5.6, 14.9, 6.1, 13.7, 5.3, 14.5, 6.4, 15.3, 5.7, 13.8, 6.0, 14.6, 19.7, 5.5,
                15.1, 6.2, 13.9, 5.6, 14.4, 6.0, 15.0, 5.4, 13.7, 6.3, 14.8, 5.8, 14.1, 6.1, 15.2,
                5.7, 14.6, 6.0, 13.8, 5.5, 19.0, 6.2, 14.9, 5.9, 13.6, 6.4, 15.1, 5.6, 14.2, 6.0,
                19.1, 5.8, 14.7, 6.2, 13.9, 5.5, 19.6, 6.0, 14.5, 5.4, 15.2, 6.3, 13.8, 5.7, 14.6,
                6.1, 14.0, 18.6, 5.6, 14.4, 6.2, 13.7, 5.3, 15.0, 6.0, 14.3, 5.8, 14.9, 6.1, 12.3]
rflex_p10_r1 = [9.0, 25.1, 6.2, 14.9, 5.5, 15.4, 6.0, 14.3, 5.3, 14.7, 6.1, 15.2, 5.8, 14.0, 22.0,
                5.6, 14.6, 6.3, 15.0, 5.4, 17.9, 6.0, 14.2, 5.9, 21.5, 6.2, 14.8, 5.5, 15.3, 6.1,
                14.1, 5.7, 19.1, 6.0, 14.9, 5.3, 15.5, 6.2, 14.4, 5.8, 14.7, 6.1, 15.0, 5.6, 14.3,
                6.3, 15.1, 16.9, 5.5, 14.6, 6.0, 15.2, 5.9, 14.2, 6.1, 20.3, 5.4, 14.8, 20.0, 5.7,
                14.5, 6.2, 15.0, 5.6, 14.3, 6.0, 15.4, 5.8, 19.2, 6.1, 14.4, 5.5, 15.1, 6.3, 14.7,
                22.2, 5.7, 14.9, 6.0, 15.3, 5.4, 14.2, 6.2, 17.6, 5.9, 14.8, 6.1, 15.0, 5.6, 14.4,
                6.0, 15.2, 5.8, 14.5, 6.3, 17.2, 5.5, 14.9, 6.1, 15.1, 21.5, 5.7, 14.3, 6.0, 15.4,
                5.9, 17.2, 6.2, 14.6, 5.4, 15.0, 6.0, 14.4, 5.8, 15.3, 6.1, 21.7, 5.6, 14.8, 6.3,
                14.7, 5.5, 15.1, 22.2, 6.0, 14.2, 5.8, 15.0, 6.2, 20.9, 5.7, 14.6, 6.1, 23.0, 5.9,
                15.2, 6.0, 14.5, 5.6, 14.9, 6.2, 15.3, 5.8, 19.2, 6.1, 14.7, 5.4, 15.0, 20.0, 8.0]
rflexm_p10_r0 = [25.1, 6.3, 13.2, 5.8, 14.0, 6.6, 13.9, 5.7, 16.4, 6.1, 13.0, 5.5, 13.6, 6.0, 14.2,
                 5.9, 13.4, 6.4, 14.1, 5.6, 13.2, 6.2, 13.8, 5.8, 14.3, 6.0, 15.5, 5.7, 13.5, 6.3,
                 13.8, 5.6, 18.6, 6.1, 14.0, 5.9, 13.3, 6.4, 14.2, 5.7, 18.3, 6.0, 13.5, 5.8, 14.1,
                 6.2, 13.7, 5.6, 14.3, 6.0, 13.1, 5.9, 21.7, 6.3, 13.9, 5.7, 23.0, 6.1, 14.0, 5.8,
                 13.7, 6.3, 14.1, 5.6, 13.3, 6.5, 14.4, 5.9, 13.1, 6.1, 14.0, 5.5, 13.6, 6.2, 13.8,
                 5.7, 14.2, 6.4, 13.4, 5.8, 14.5, 6.0, 13.2, 5.6, 22.6, 6.3, 13.9, 5.9, 14.6, 6.2,
                 13.6, 5.5, 14.3, 6.1, 13.0, 5.8, 14.4, 6.4, 13.7, 5.7, 14.0, 6.0, 13.5, 5.9, 14.2,
                 6.2, 13.8, 5.6, 14.1, 6.3, 13.4, 5.8, 14.5, 6.0, 13.2, 5.7, 13.9, 6.1, 14.3, 5.9,
                 13.6, 6.4, 14.0, 5.5, 13.3, 6.2, 14.2, 5.8, 13.7, 6.0, 19.1, 5.6, 13.9, 6.3, 14.1,
                 5.7, 13.5, 6.1, 14.4, 5.9, 13.2, 6.2, 13.8, 5.6, 14.0, 15.2, 6.0, 13.4, 5.8, 9.2]
rflexm_p10_r1 = [5.0, 15.1, 6.2, 14.0, 5.8, 13.6, 6.9, 14.2, 5.6, 13.8, 6.2, 14.1, 19.7, 6.4, 13.7,
                 6.9, 16.9, 5.8, 14.0, 7.0, 13.6, 6.4, 14.3, 6.2, 13.9, 5.6, 15.8, 6.9, 5.8, 21.3,
                 6.4, 14.1, 7.0, 13.7, 6.0, 14.2, 6.2, 17.2, 5.8, 14.3, 6.9, 13.9, 5.6, 14.2, 22.0,
                 6.2, 13.6, 6.4, 14.0, 7.0, 13.8, 5.8, 14.3, 6.9, 13.9, 5.6, 14.2, 6.2, 6.4, 16.8,
                 6.2, 13.6, 6.4, 14.1, 7.0, 13.8, 17.5, 5.8, 14.0, 6.9, 13.7, 6.4, 16.4, 6.2, 14.2,
                 5.8, 13.9, 21.0, 6.9, 13.8, 6.4, 14.3, 6.2, 13.6, 5.6, 14.1, 7.0, 13.9, 20.8, 6.4,
                 14.0, 5.6, 14.1, 6.9, 22.8, 6.4, 13.9, 6.2, 18.5, 5.8, 14.2, 7.0, 13.9, 6.2, 17.3,
                 6.4, 14.1, 6.2, 17.3, 5.8, 14.2, 7.0, 13.8, 6.4, 14.0, 6.9, 17.3, 5.8, 14.1, 6.2,
                 15.6, 6.2, 13.8, 6.4, 14.2, 16.0, 5.8, 14.1, 6.9, 13.7, 6.4, 14.0, 7.0, 13.9, 5.8,
                 14.1, 7.0, 13.9, 18.4, 6.4, 14.0, 6.9, 13.7, 5.8, 14.1, 7.0, 13.9, 5.8, 14.0, 14.4]
infty_p10_r0 = [23.9, 6.5, 14.6, 6.2, 15.1, 6.8, 14.3, 6.0, 15.4, 6.6, 14.0, 6.3, 15.2, 6.9, 14.5,
                6.1, 15.0, 6.7, 14.2, 6.4, 15.3, 6.0, 14.8, 6.5, 14.1, 6.2, 15.5, 6.8, 14.4, 6.3,
                14.9, 6.1, 14.3, 6.6, 15.2, 6.0, 15.0, 6.7, 14.6, 6.3, 15.2, 6.9, 14.1, 6.4, 15.3,
                6.2, 14.7, 6.5, 14.0, 6.1, 15.1, 6.8, 14.5, 6.3, 14.8, 6.6, 17.5, 6.0, 15.0, 6.4,
                14.2, 6.7, 15.0, 6.1, 14.6, 6.9, 14.3, 6.2, 17.4, 6.5, 15.1, 6.0, 14.8, 6.6, 14.4,
                6.3, 15.2, 6.8, 14.1, 6.4, 15.3, 6.2, 14.7, 6.5, 14.0, 6.1, 15.1, 6.8, 14.5, 6.3,
                14.8, 6.6, 15.0, 6.0, 14.2, 6.7, 14.6, 6.3, 17.9, 6.1, 15.1, 6.8, 14.5, 6.3, 14.8,
                6.6, 15.2, 6.2, 14.4, 6.9, 15.0, 6.1, 14.6, 6.5, 14.9, 9.2, 11.2, 9.4, 6.0, 15.3,
                6.4, 14.2, 6.7, 15.0, 6.1, 14.6, 19.1, 6.2, 14.3, 6.9, 15.1, 6.5, 14.8, 6.3, 15.0,
                6.2, 14.5, 6.6, 15.2, 6.0, 14.7, 6.4, 15.1, 6.8, 14.3, 6.1, 15.0, 6.5, 16.4, 10.2]
infty_p10_r1 = [11.0, 24.3, 5.0, 14.9, 7.0, 14.4, 6.6, 15.1, 6.1, 14.2, 16.9, 6.4, 14.7, 6.8, 15.0,
                6.4, 14.3, 7.0, 15.0, 6.5, 14.7, 6.0, 14.4, 6.1, 15.1, 6.2, 14.2, 6.8, 14.7, 6.4,
                14.3, 7.0, 15.0, 6.8, 15.2, 6.6, 17.4, 6.0, 15.2, 6.1, 14.5, 6.6, 14.9, 7.0, 14.4,
                6.5, 16.2, 6.6, 14.9, 7.0, 14.5, 6.5, 14.4, 6.0, 14.7, 6.4, 15.0, 6.8, 14.9, 6.6,
                14.7, 6.1, 18.6, 6.4, 15.0, 6.6, 14.3, 6.8, 16.8, 6.4, 14.2, 6.1, 15.2, 6.0, 15.1,
                6.1, 15.2, 6.4, 14.3, 6.8, 17.2, 6.0, 15.2, 6.1, 15.1, 7.0, 14.4, 6.6, 14.7, 6.1,
                14.4, 7.0, 14.9, 6.6, 16.9, 6.1, 14.5, 6.4, 14.9, 6.0, 14.7, 6.8, 15.0, 7.0, 15.2,
                6.4, 17.2, 6.0, 14.7, 6.8, 15.0, 7.0, 14.9, 6.6, 14.4, 11.4, 9.0, 11.2, 7.0, 14.3,
                6.6, 15.2, 7.0, 14.3, 6.1, 15.0, 18.3, 7.0, 14.9, 6.6, 14.4, 6.8, 14.7, 6.4, 15.0,
                6.1, 18.0, 6.4, 14.9, 6.8, 15.0, 6.6, 14.7, 7.0, 14.3, 6.1, 14.4, 6.4, 15.2, 10.0]

SERIES = [
    [(so_p02_r0, so_p02_r1), (som_p02_r0, som_p02_r1), (rflexv_p02_r0, rflexv_p02_r1),
     (rflexvm_p02_r0, rflexvm_p02_r1), (rflex_p02_r0, rflex_p02_r1),
     (rflexm_p02_r0, rflexm_p02_r1), (infty_p02_r0, infty_p02_r1)],
    [(so_p10_r0, so_p10_r1), (som_p10_r0, som_p10_r1), (rflexv_p10_r0, rflexv_p10_r1),
     (rflexvm_p10_r0, rflexvm_p10_r1), (rflex_p10_r0, rflex_p10_r1),
     (rflexm_p10_r0, rflexm_p10_r1), (infty_p10_r0, infty_p10_r1)],
]

# ---------------- layout constants (pixels) ----------------
W, H = 3060, 900
PANEL_LEFT, PANEL_W, PANEL_GAP = 245.5, 376.5, 19.8
ROW_BOUNDS = [(134, 442), (458, 765)]
X_RANGE = [-14.4, 314]
Y_RANGE = [4.05, 26.05]
FONT = "DejaVu Sans"

fig = go.Figure()
layout = {}
annotations = []

for r in range(2):
    for c in range(7):
        k = r * 7 + c + 1
        xa = "x" if k == 1 else f"x{k}"
        ya = "y" if k == 1 else f"y{k}"
        r0, r1 = SERIES[r][c]
        assert len(r0) == len(DAYS) and len(r1) == len(DAYS), (r, c, len(r0), len(r1))
        for vals, name, color in zip((r0, r1), ROUTE_NAMES, ROUTE_COLORS):
            fig.add_trace(go.Scatter(x=DAYS, y=vals, mode="lines", name=name,
                                     line=dict(color=color, width=6),
                                     xaxis=xa, yaxis=ya, showlegend=False,
                                     hoverinfo="skip"))
        left = PANEL_LEFT + c * (PANEL_W + PANEL_GAP)
        top, bot = ROW_BOUNDS[r]
        layout["xaxis" if k == 1 else f"xaxis{k}"] = dict(
            domain=[left / W, (left + PANEL_W) / W], range=X_RANGE, anchor=ya,
            tickmode="array", tickvals=X_TICKS, ticktext=[str(v) for v in X_TICKS],
            showticklabels=(r == 1), ticks="outside", ticklen=15, tickwidth=3,
            tickcolor="black", showline=True, mirror=True, linecolor="black",
            linewidth=3, showgrid=False, zeroline=False, fixedrange=True,
            tickfont=dict(family=FONT, size=42, color="black"),
            minor=dict(tickmode="linear", tick0=0, dtick=50, ticks="outside",
                       ticklen=8, tickwidth=2.5, tickcolor="black", showgrid=False),
        )
        layout["yaxis" if k == 1 else f"yaxis{k}"] = dict(
            domain=[1 - bot / H, 1 - top / H], range=Y_RANGE, anchor=xa,
            tickmode="array", tickvals=Y_TICKS, ticktext=[str(v) for v in Y_TICKS],
            showticklabels=(c == 0), ticks="outside", ticklen=15, tickwidth=3,
            tickcolor="black", showline=True, mirror=True, linecolor="black",
            linewidth=3, showgrid=True, gridcolor="#b0b0b0", gridwidth=2.5,
            zeroline=False, fixedrange=True,
            tickfont=dict(family=FONT, size=42, color="black"),
            minor=dict(tickmode="linear", tick0=0, dtick=2, ticks="outside",
                       ticklen=8, tickwidth=2.5, tickcolor="black", showgrid=True,
                       gridcolor="#e4e4e4", gridwidth=1.5, griddash="dot"),
        )
        annotations.append(dict(
            xref=f"{xa} domain", yref=f"{ya} domain",
            x=27 / PANEL_W, y=1 - 28 / (bot - top), xanchor="left", yanchor="middle",
            text=f"<b>F0 = {F0_LABELS[c]}, P = {P_LABELS[r]}</b>", showarrow=False,
            font=dict(family=FONT, size=29, color="black")))

# axis titles
annotations.append(dict(xref="paper", yref="paper", x=1530 / W, y=1 - 866 / H,
                        xanchor="center", yanchor="middle", text="Day", showarrow=False,
                        font=dict(family=FONT, size=50, color="black")))
annotations.append(dict(xref="paper", yref="paper", x=83 / W, y=1 - 452 / H,
                        xanchor="center", yanchor="middle", text="Time [min]",
                        textangle=-90, showarrow=False,
                        font=dict(family=FONT, size=50, color="black")))

# custom legend (box, circle markers, labels)
def px(xp):
    return xp / W

def py(yp):
    return 1 - yp / H

shapes = []
bx0, bx1, by0, by1, rad = 1193, 1867, 20, 97, 9
path = (f"M {px(bx0 + rad)},{py(by0)} L {px(bx1 - rad)},{py(by0)} "
        f"Q {px(bx1)},{py(by0)} {px(bx1)},{py(by0 + rad)} L {px(bx1)},{py(by1 - rad)} "
        f"Q {px(bx1)},{py(by1)} {px(bx1 - rad)},{py(by1)} L {px(bx0 + rad)},{py(by1)} "
        f"Q {px(bx0)},{py(by1)} {px(bx0)},{py(by1 - rad)} L {px(bx0)},{py(by0 + rad)} "
        f"Q {px(bx0)},{py(by0)} {px(bx0 + rad)},{py(by0)} Z")
shapes.append(dict(type="path", xref="paper", yref="paper", path=path,
                   line=dict(color="#d6d6d6", width=3), fillcolor="rgba(255,255,255,0.8)"))
LEG_MARK_X = [1253, 1613]
LEG_TEXT_X = [1331, 1691]
for i in range(2):
    cx, cy, rr = LEG_MARK_X[i], 56, 14.5
    shapes.append(dict(type="circle", xref="paper", yref="paper",
                       x0=px(cx - rr), x1=px(cx + rr), y0=py(cy + rr), y1=py(cy - rr),
                       fillcolor=ROUTE_COLORS[i], line=dict(width=0)))
    annotations.append(dict(xref="paper", yref="paper", x=px(LEG_TEXT_X[i]), y=py(56),
                            xanchor="left", yanchor="middle", text=ROUTE_NAMES[i],
                            showarrow=False, font=dict(family=FONT, size=42, color="black")))

fig.update_layout(
    width=W, height=H, margin=dict(l=0, r=0, t=0, b=0),
    paper_bgcolor="white", plot_bgcolor="white", showlegend=False,
    font=dict(family=FONT, color="black"),
    annotations=annotations, shapes=shapes, **layout)

fig.write_html("out.html")
